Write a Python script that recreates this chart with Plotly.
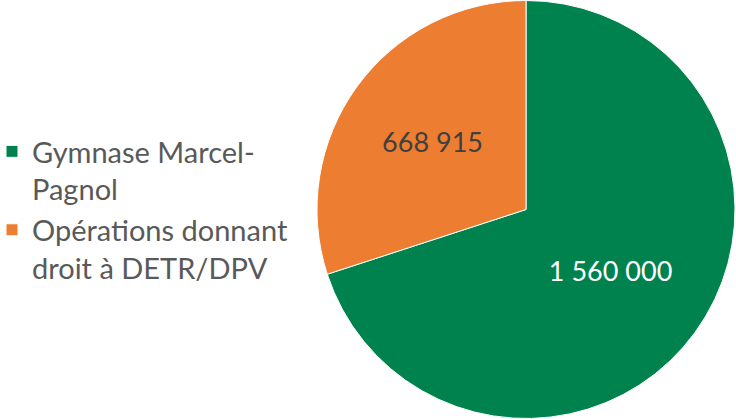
import plotly.graph_objects as go

labels = ["Gymnase Marcel-<br>Pagnol", "Opérations donnant<br>droit à DETR/DPV"]
values = [1560000, 668915]
text_labels = ["1 560 000", "668 915"]
colors = ["#00824E", "#ED7D31"]
text_colors = ["#FFFFFF", "#404040"]

fig = go.Figure(go.Pie(
    labels=labels,
    values=values,
    text=text_labels,
    textinfo="text",
    textposition="inside",
    insidetextorientation="horizontal",
    sort=False,
    direction="clockwise",
    rotation=0,
    marker=dict(colors=colors, line=dict(color="white", width=1)),
    insidetextfont=dict(color=text_colors, size=27, family="Lato"),
    domain=dict(x=[317/736, 735/736], y=[0, 1]),
    hoverinfo="label+value",
))

fig.update_layout(
    width=736, height=419,
    margin=dict(l=0, r=0, t=0, b=0, autoexpand=False),
    paper_bgcolor="white",
    showlegend=True,
    legend=dict(
        x=0, xanchor="left", y=0.5, yanchor="middle",
        font=dict(family="Lato", size=29, color="#595959"),
        valign="top",
        itemwidth=30,
        indentation=-8,
        tracegroupgap=0,
        bgcolor="rgba(0,0,0,0)",
    ),
    uniformtext=dict(minsize=10, mode=False),
)

fig.write_html("out.html", config={"displayModeBar": False},
               post_script="document.body.style.margin='0';")
